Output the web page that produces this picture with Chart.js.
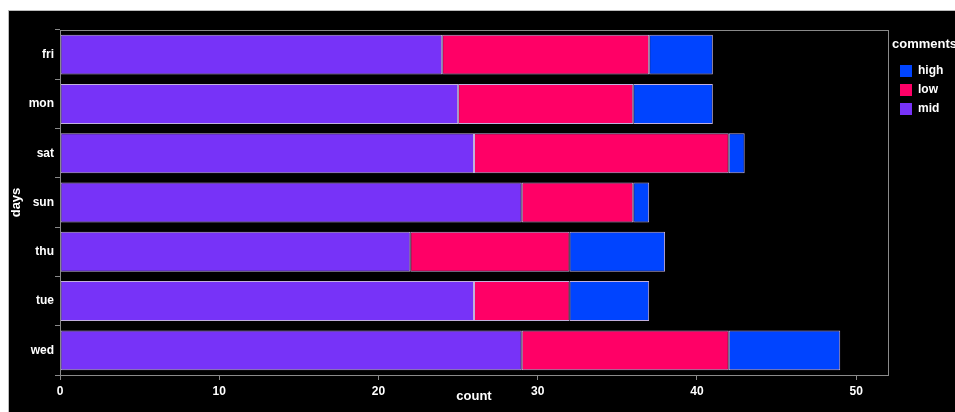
<!DOCTYPE html>
<html>
<head>
<meta charset="utf-8">
<script src="https://cdn.jsdelivr.net/npm/chart.js@4.4.1/dist/chart.umd.min.js"></script>
<style>
  html, body { margin: 0; padding: 0; background: #ffffff; }
  #wrap { position: absolute; left: 8px; top: 10px; width: 947px; height: 402px; background: #000; border-left: 1px solid #bbb; border-top: 1px solid #bbb; box-sizing: border-box; }
  canvas { display: block; }
</style>
</head>
<body>
<div id="wrap"><canvas id="c" width="946" height="401"></canvas></div>
<script>
const days = ['fri', 'mon', 'sat', 'sun', 'thu', 'tue', 'wed'];
const midValues  = [24, 25, 26, 29, 22, 26, 29];
const lowValues  = [13, 11, 16, 7, 10, 6, 13];
const highValues = [4, 5, 1, 1, 6, 5, 7];
const xTicks = [0, 10, 20, 30, 40, 50];
const seriesNames = ['mid', 'low', 'high'];
const seriesColors = ['#7733f8', '#ff0066', '#0044ff'];
const legendTitle = 'comments';
const xTitle = 'count';
const yTitle = 'days';

const FONT = 'Liberation Sans, Arial, sans-serif';

const boxPlugin = {
  id: 'box',
  afterDraw(chart) {
    const a = chart.chartArea, ctx = chart.ctx;
    ctx.save();
    ctx.strokeStyle = '#8a8a8a';
    ctx.lineWidth = 1;
    ctx.strokeRect(Math.round(a.left) + 0.5, Math.round(a.top) + 0.5, Math.round(a.right - a.left), Math.round(a.bottom - a.top));
    // legend
    const lx = a.right + 5;
    ctx.fillStyle = '#ffffff';
    ctx.font = 'bold 13px ' + FONT;
    ctx.textBaseline = 'middle';
    ctx.textAlign = 'left';
    ctx.fillText(legendTitle, lx - 1, 33);
    ctx.font = 'bold 12px ' + FONT;
    const order = [2, 1, 0];
    order.forEach((di, i) => {
      const ds = chart.data.datasets[di];
      const y = 60 + i * 19;
      ctx.fillStyle = ds.backgroundColor;
      ctx.fillRect(lx + 7, y - 6, 12, 12);
      ctx.fillStyle = '#ffffff';
      ctx.fillText(ds.label, lx + 25, y);
    });
    ctx.restore();
  }
};

new Chart(document.getElementById('c'), {
  type: 'bar',
  data: {
    labels: days,
    datasets: [
      { label: seriesNames[0], data: midValues,  backgroundColor: seriesColors[0] },
      { label: seriesNames[1], data: lowValues,  backgroundColor: seriesColors[1] },
      { label: seriesNames[2], data: highValues, backgroundColor: seriesColors[2] }
    ].map(d => Object.assign(d, { borderColor: 'rgba(215,195,245,0.9)', borderWidth: 1, borderSkipped: false, barPercentage: 0.81, categoryPercentage: 1 }))
  },
  options: {
    indexAxis: 'y',
    responsive: false,
    animation: false,
    layout: { padding: { left: 0, top: 19, right: 67, bottom: 0 } },
    plugins: { legend: { display: false }, tooltip: { enabled: false } },
    scales: {
      x: {
        stacked: true,
        min: 0, max: 52,
        afterBuildTicks(s) { s.ticks = xTicks.map(v => ({ value: v })); },
        afterFit(s) { s.height = 37; },
        grid: { display: true, drawOnChartArea: false, drawTicks: true, tickLength: 5, color: '#8a8a8a' },
        border: { display: true, color: '#8a8a8a' },
        ticks: { color: '#ffffff', font: { family: FONT, size: 12, weight: 'bold' }, padding: 4, maxRotation: 0 },
        title: { display: true, text: xTitle, color: '#ffffff', font: { family: FONT, size: 13, weight: 'bold' }, padding: { top: 0, bottom: 8 } }
      },
      y: {
        stacked: true,
        afterFit(s) { s.width = 51; },
        grid: { display: true, drawOnChartArea: false, drawTicks: true, tickLength: 5, color: '#8a8a8a' },
        border: { display: true, color: '#8a8a8a' },
        ticks: { color: '#ffffff', font: { family: FONT, size: 12, weight: 'bold' }, padding: 1 },
        title: { display: true, text: yTitle, color: '#ffffff', font: { family: FONT, size: 13, weight: 'bold' }, padding: 0 }
      }
    }
  },
  plugins: [boxPlugin]
});
</script>
</body>
</html>
